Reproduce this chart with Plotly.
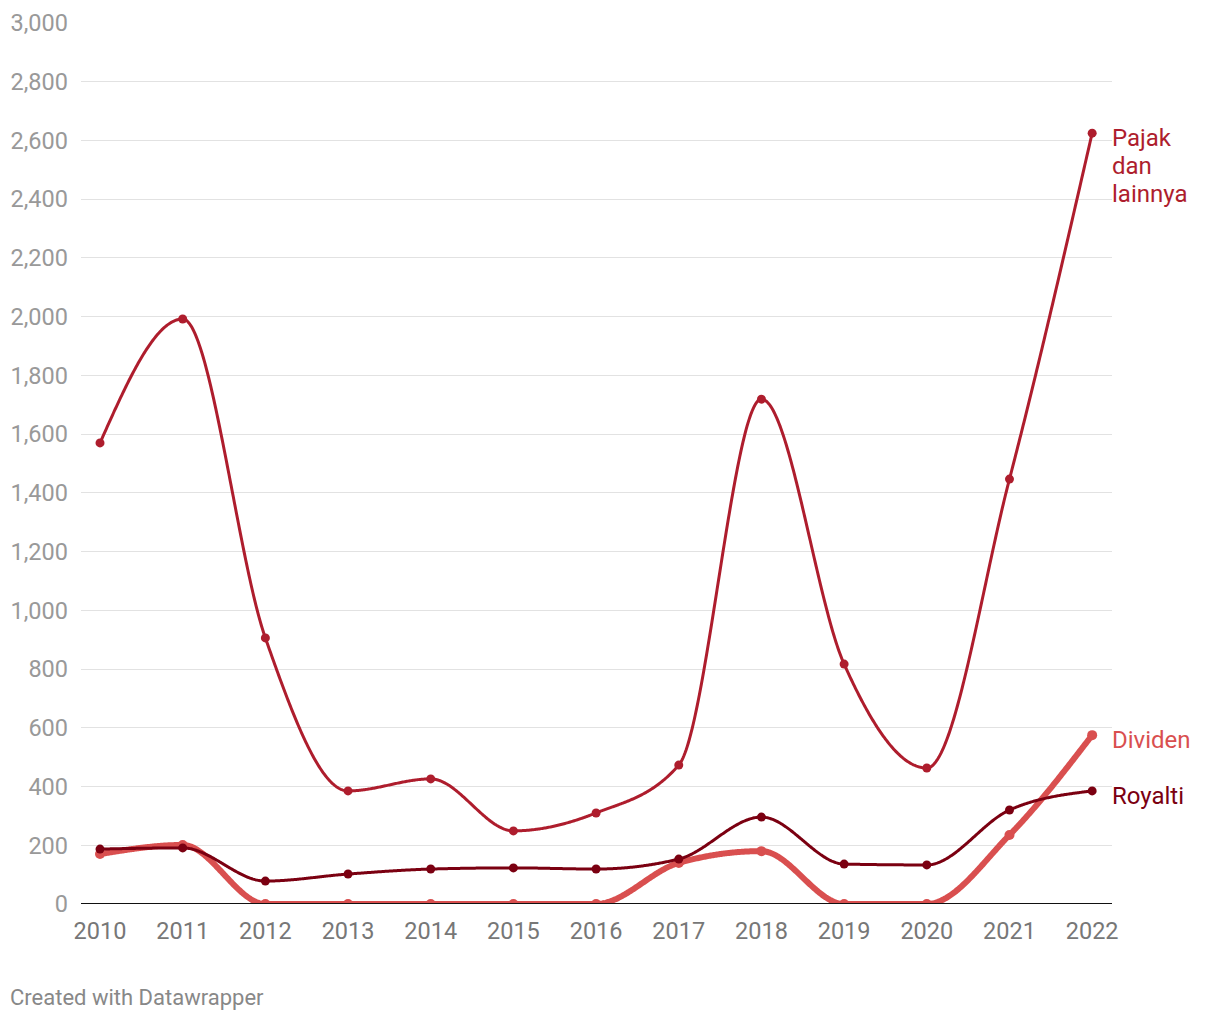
import numpy as np
import plotly.graph_objects as go

years = [2010, 2011, 2012, 2013, 2014, 2015, 2016, 2017, 2018, 2019, 2020, 2021, 2022]
pajak = [1570, 1992, 906, 385, 426, 249, 310, 473, 1719, 817, 463, 1447, 2625]
dividen = [170, 201, 0, 0, 0, 0, 0, 140, 180, 0, 0, 235, 575]
royalti = [187, 191, 78, 102, 119, 123, 119, 153, 296, 136, 133, 320, 385]
y_ticks = list(range(0, 3001, 200))
pajak_label = ["Pajak", "dan", "lainnya"]

C_PAJAK = "#ae1d2d"
C_DIV = "#d94f4f"
C_ROY = "#7b0011"
FONT = "Roboto"


def monotone_x(xs, ys, n=80):
    """d3 curveMonotoneX interpolation, sampled densely."""
    x = np.asarray(xs, float)
    y = np.asarray(ys, float)
    m = len(x)
    h = np.diff(x)
    s = np.diff(y) / h
    t = np.zeros(m)
    for i in range(1, m - 1):
        s0, s1 = s[i - 1], s[i]
        h0, h1 = h[i - 1], h[i]
        p = (s0 * h1 + s1 * h0) / (h0 + h1)
        t[i] = (np.sign(s0) + np.sign(s1)) * min(abs(s0), abs(s1), 0.5 * abs(p))
    t[0] = (3 * s[0] - t[1]) / 2
    t[-1] = (3 * s[-1] - t[-2]) / 2
    X, Y = [], []
    for i in range(m - 1):
        dx = h[i] / 3
        p0 = (x[i], y[i])
        p1 = (x[i] + dx, y[i] + dx * t[i])
        p2 = (x[i + 1] - dx, y[i + 1] - dx * t[i + 1])
        p3 = (x[i + 1], y[i + 1])
        u = np.linspace(0, 1, n, endpoint=(i == m - 2))
        a = (1 - u) ** 3
        b = 3 * (1 - u) ** 2 * u
        c = 3 * (1 - u) * u ** 2
        d = u ** 3
        X.extend(a * p0[0] + b * p1[0] + c * p2[0] + d * p3[0])
        Y.extend(a * p0[1] + b * p1[1] + c * p2[1] + d * p3[1])
    return X, Y


fig = go.Figure()

series = [
    ("Dividen", dividen, C_DIV, 6, 10),
    ("Pajak dan lainnya", pajak, C_PAJAK, 3, 9),
    ("Royalti", royalti, C_ROY, 3, 9),
]
for name, vals, col, lw, ms in series:
    X, Y = monotone_x(years, vals)
    fig.add_trace(go.Scatter(x=X, y=Y, mode="lines",
                             line=dict(color=col, width=lw, simplify=False),
                             hoverinfo="skip", showlegend=False))
    fig.add_trace(go.Scatter(x=years, y=vals, mode="markers", name=name,
                             marker=dict(color=col, size=ms), showlegend=False))

# zero baseline
fig.add_shape(type="line", xref="paper", yref="y", x0=0, x1=1, y0=0, y1=0,
              line=dict(color="#111111", width=2))

LS = 24
for k, word in enumerate(pajak_label):
    fig.add_annotation(x=years[-1], y=pajak[-1], text=word,
                       xanchor="left", yanchor="middle", xshift=18, yshift=-5 - 28 * k,
                       showarrow=False, align="left",
                       font=dict(family=FONT, size=LS, color=C_PAJAK))
fig.add_annotation(x=years[-1], y=dividen[-1], text="Dividen",
                   xanchor="left", yanchor="middle", xshift=18, yshift=-5, showarrow=False,
                   font=dict(family=FONT, size=LS, color=C_DIV))
fig.add_annotation(x=years[-1], y=royalti[-1], text="Royalti",
                   xanchor="left", yanchor="middle", xshift=18, yshift=-5, showarrow=False,
                   font=dict(family=FONT, size=LS, color=C_ROY))

fig.add_annotation(xref="paper", yref="paper", x=-73 / 1031, y=0, yshift=-93,
                   xanchor="left", yanchor="middle", showarrow=False,
                   text="Created with Datawrapper",
                   font=dict(family=FONT, size=22, color="#888888"))

fig.update_layout(
    width=1220, height=1020,
    margin=dict(l=73, r=116, t=15, b=124),
    paper_bgcolor="white", plot_bgcolor="white",
    font=dict(family=FONT, color="#999999"),
    xaxis=dict(range=[2009.77, 2022.24], tickmode="array", tickvals=years,
               ticktext=[str(y) for y in years], showgrid=False, zeroline=False,
               showline=False, ticks="", ticklabelstandoff=10, automargin=False,
               tickfont=dict(family=FONT, size=23.5, color="#777777")),
    yaxis=dict(range=[0, 3000], tickmode="array", tickvals=y_ticks,
               ticktext=[f"{v:,}" for v in y_ticks], showgrid=True,
               gridcolor="#e2e2e2", gridwidth=1, zeroline=False, showline=False,
               ticks="", ticklabelstandoff=12, automargin=False,
               tickfont=dict(family=FONT, size=23.5, color="#999999")),
)

fig.write_html("out.html")
